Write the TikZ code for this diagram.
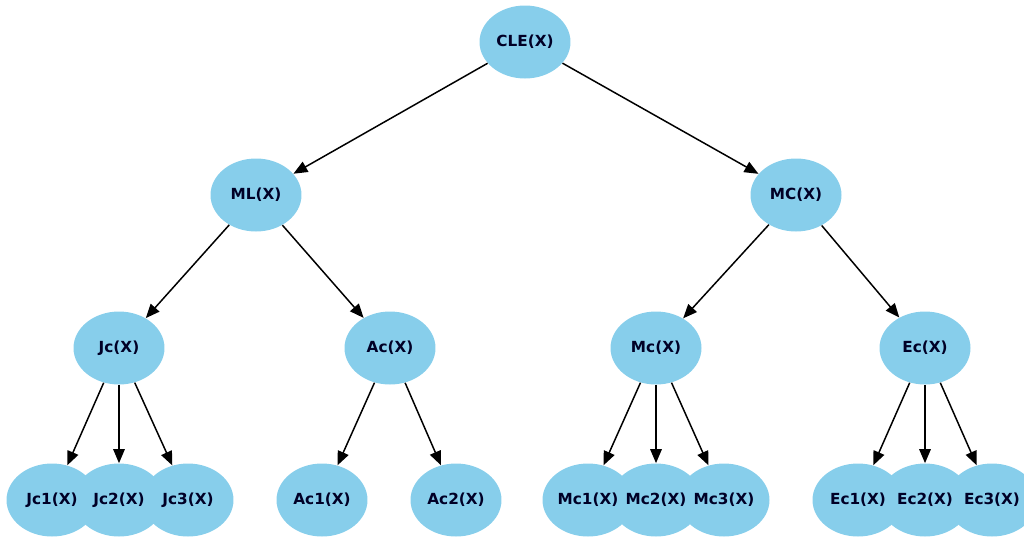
\documentclass[tikz,border=0pt]{standalone}
\usepackage{fontspec}
\setmainfont{DejaVu Sans}
\usetikzlibrary{arrows.meta,shapes.geometric,backgrounds}
\definecolor{skyblue}{RGB}{135,206,235}
\begin{document}
\begin{tikzpicture}[x=0.02cm,y=-0.02cm,
		knot/.style={ellipse,minimum width=1.82cm,minimum height=1.46cm,inner sep=0pt,
			font=\fontsize{8.7}{10}\selectfont\bfseries,text=black!85!blue},
		edge/.style={-{Triangle[length=2.8mm,width=2.3mm]},line width=0.85pt,black}]
	\useasboundingbox (0,0) rectangle (1024,539);
	% Gốc và tầng 1
	\node[knot] (cle) at (525,42) {CLE(X)};
	\node[knot] (ml) at (256,195) {ML(X)};
	\node[knot] (mc) at (796,195) {MC(X)};
	% Tầng 2
	\node[knot] (jc) at (119,348) {Jc(X)};
	\node[knot] (ac) at (390,348) {Ac(X)};
	\node[knot] (mcc) at (656,348) {Mc(X)};
	\node[knot] (ec) at (925,348) {Ec(X)};
	% Lá
	\node[knot] (jc1) at (52,500) {Jc1(X)};
	\node[knot] (jc2) at (119,500) {Jc2(X)};
	\node[knot] (jc3) at (188,500) {Jc3(X)};
	\node[knot] (ac1) at (322,500) {Ac1(X)};
	\node[knot] (ac2) at (456,500) {Ac2(X)};
	\node[knot] (mc1) at (588,500) {Mc1(X)};
	\node[knot] (mc2) at (656,500) {Mc2(X)};
	\node[knot] (mc3) at (724,500) {Mc3(X)};
	\node[knot] (ec1) at (858,500) {Ec1(X)};
	\node[knot] (ec2) at (925,500) {Ec2(X)};
	\node[knot] (ec3) at (992,500) {Ec3(X)};
	% Nền xanh của các nút (dưới chữ)
	\begin{scope}[on background layer]
		\foreach \n in {cle,ml,mc,jc,ac,mcc,ec,jc1,jc2,jc3,ac1,ac2,mc1,mc2,mc3,ec1,ec2,ec3}
			\fill[skyblue] (\n) ellipse [x radius=0.91cm,y radius=0.73cm];
	\end{scope}
	% Cạnh
	\foreach \a/\b in {cle/ml,cle/mc,ml/jc,ml/ac,mc/mcc,mc/ec,
			jc/jc1,jc/jc2,jc/jc3,ac/ac1,ac/ac2,mcc/mc1,mcc/mc2,mcc/mc3,ec/ec1,ec/ec2,ec/ec3}
		\draw[edge] (\a) -- (\b);
\end{tikzpicture}
\end{document}
